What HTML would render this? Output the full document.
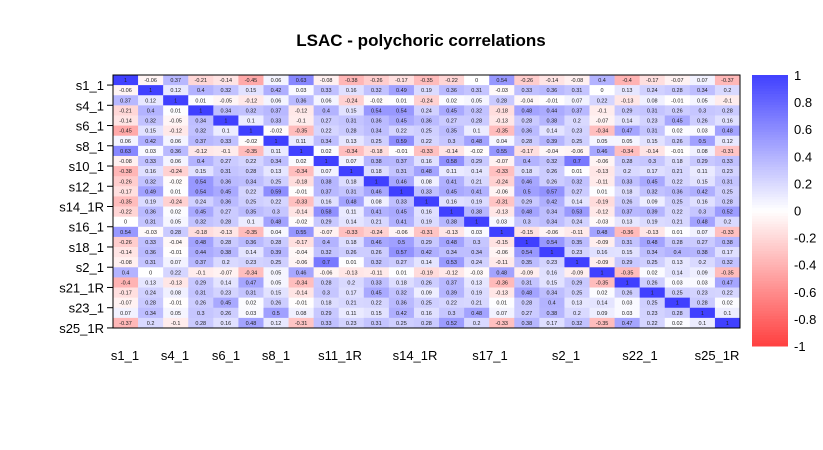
<!DOCTYPE html>
<html><head><meta charset="utf-8"><style>
body{margin:0;background:#fff}
svg text{font-family:"Liberation Sans",sans-serif}
</style></head><body>
<svg id="chart" width="823" height="445" viewBox="0 0 823 445" xmlns="http://www.w3.org/2000/svg">
<text x="421" y="46" text-anchor="middle" font-size="17" font-weight="bold">LSAC - polychoric correlations</text>
<g id="cells"></g>
<rect x="113" y="75" width="627" height="253" fill="none" stroke="#000" stroke-width="1"/>
<g id="rowlab"></g>
<g id="collab"></g>
<g id="cbar"></g>
</svg>
<script>
const vars=["s1_1","s3_1","s4_1","s5_1","s6_1","s7_1","s8_1","s9_1","s10_1","s11_1R","s12_1","s13_1","s14_1R","s15_1","s16_1","s17_1","s18_1","s19_1","s2_1","s20_1","s21_1R","s22_1","s23_1","s24_1","s25_1R"];
const rowLabels=["s1_1","s4_1","s6_1","s8_1","s10_1","s12_1","s14_1R","s16_1","s18_1","s2_1","s21_1R","s23_1","s25_1R"];
const colLabels=["s1_1","s4_1","s6_1","s8_1","s11_1R","s14_1R","s17_1","s2_1","s22_1","s25_1R"];
const colLabelX=[125,175,226,276,340,415,490,566,640,717];
const legendTicks=[1,0.8,0.6,0.4,0.2,0,-0.2,-0.4,-0.6,-0.8,-1];
const upper=[
[1,-0.06,0.37,-0.21,-0.14,-0.45,0.06,0.63,-0.08,-0.38,-0.26,-0.17,-0.35,-0.22,0,0.54,-0.26,-0.14,-0.08,0.4,-0.4,-0.17,-0.07,0.07,-0.37],
[1,0.12,0.4,0.32,0.15,0.42,0.03,0.33,0.16,0.32,0.49,0.19,0.36,0.31,-0.03,0.33,0.36,0.31,0,0.13,0.24,0.28,0.34,0.2],
[1,0.01,-0.05,-0.12,0.06,0.36,0.06,-0.24,-0.02,0.01,-0.24,0.02,0.05,0.28,-0.04,-0.01,0.07,0.22,-0.13,0.08,-0.01,0.05,-0.1],
[1,0.34,0.32,0.37,-0.12,0.4,0.15,0.54,0.54,0.24,0.45,0.32,-0.18,0.48,0.44,0.37,-0.1,0.29,0.31,0.26,0.3,0.28],
[1,0.1,0.33,-0.1,0.27,0.31,0.36,0.45,0.36,0.27,0.28,-0.13,0.28,0.38,0.2,-0.07,0.14,0.23,0.45,0.26,0.16],
[1,-0.02,-0.35,0.22,0.28,0.34,0.22,0.25,0.35,0.1,-0.35,0.36,0.14,0.23,-0.34,0.47,0.31,0.02,0.03,0.48],
[1,0.11,0.34,0.13,0.25,0.59,0.22,0.3,0.48,0.04,0.28,0.39,0.25,0.05,0.05,0.15,0.26,0.5,0.12],
[1,0.02,-0.34,-0.18,-0.01,-0.33,-0.14,-0.02,0.55,-0.17,-0.04,-0.06,0.46,-0.34,-0.14,-0.01,0.08,-0.31],
[1,0.07,0.38,0.37,0.16,0.58,0.29,-0.07,0.4,0.32,0.7,-0.06,0.28,0.3,0.18,0.29,0.33],
[1,0.18,0.31,0.48,0.11,0.14,-0.33,0.18,0.26,0.01,-0.13,0.2,0.17,0.21,0.11,0.23],
[1,0.46,0.08,0.41,0.21,-0.24,0.46,0.26,0.32,-0.11,0.33,0.45,0.22,0.15,0.31],
[1,0.33,0.45,0.41,-0.06,0.5,0.57,0.27,0.01,0.18,0.32,0.36,0.42,0.25],
[1,0.16,0.19,-0.31,0.29,0.42,0.14,-0.19,0.26,0.09,0.25,0.16,0.28],
[1,0.38,-0.13,0.48,0.34,0.53,-0.12,0.37,0.39,0.22,0.3,0.52],
[1,0.03,0.3,0.34,0.24,-0.03,0.13,0.19,0.21,0.48,0.2],
[1,-0.15,-0.06,-0.11,0.48,-0.36,-0.13,0.01,0.07,-0.33],
[1,0.54,0.35,-0.09,0.31,0.48,0.28,0.27,0.38],
[1,0.23,0.16,0.15,0.34,0.4,0.38,0.17],
[1,-0.09,0.29,0.25,0.13,0.2,0.32],
[1,-0.35,0.02,0.14,0.09,-0.35],
[1,0.26,0.03,0.03,0.47],
[1,0.25,0.23,0.22],
[1,0.28,0.02],
[1,0.1],
[1]
];
const NS="http://www.w3.org/2000/svg";
const n=vars.length;
const X0=113,Y0=75,W=627,H=253;
const cw=W/n,ch=H/n;
const xPos=j=>X0+j*cw, yPos=i=>Y0+i*ch;
function val(i,j){return i<=j?upper[i][j-i]:upper[j][i-j];}
function color(v){
  const t=Math.min(1,Math.abs(v));
  if(v>=0){const a=Math.round(255-t*(255-64));return `rgb(${a},${a},255)`;}
  const a=Math.round(255-t*(255-64));return `rgb(255,${a},${a})`;
}
const cells=document.getElementById('cells');
for(let i=0;i<n;i++)for(let j=0;j<n;j++){
  const v=val(i,j);
  const r=document.createElementNS(NS,'rect');
  r.setAttribute('x',xPos(j));r.setAttribute('y',yPos(i));
  r.setAttribute('width',cw+0.3);r.setAttribute('height',ch+0.3);
  r.setAttribute('fill',color(v));
  
  
  cells.appendChild(r);
  const t=document.createElementNS(NS,'text');
  t.setAttribute('x',xPos(j)+cw/2);t.setAttribute('y',yPos(i)+ch/2+2);
  t.setAttribute('text-anchor','middle');t.setAttribute('font-size','5.5');
  t.setAttribute('fill','#222');
  t.textContent=String(v);
  
  
  cells.appendChild(t);
}
const rl=document.getElementById('rowlab');
rowLabels.forEach((s,k)=>{
  const i=vars.indexOf(s);
  const y=yPos(i)+ch/2;
  const l=document.createElementNS(NS,'line');
  l.setAttribute('x1',107);l.setAttribute('x2',113);l.setAttribute('y1',y+5);l.setAttribute('y2',y+5);
  l.setAttribute('stroke','#000');
  
  
  rl.appendChild(l);
  const t=document.createElementNS(NS,'text');
  t.setAttribute('x',104);t.setAttribute('y',y+10);t.setAttribute('text-anchor','end');t.setAttribute('font-size','13');
  t.textContent=s;
  
  
  rl.appendChild(t);
});
const cl=document.getElementById('collab');
colLabels.forEach((s,k)=>{
  const t=document.createElementNS(NS,'text');
  t.setAttribute('x',colLabelX[k]);t.setAttribute('y',360);t.setAttribute('text-anchor','middle');t.setAttribute('font-size','13');
  t.textContent=s;
  
  
  cl.appendChild(t);
});
const cb=document.getElementById('cbar');
const CB0=75,CB1=346,CBX=752,CBW=36;
const cy=v=>CB0+(1-v)/2*(CB1-CB0);
for(let k=0;k<100;k++){
  const v1=1-k*0.02;
  const r=document.createElementNS(NS,'rect');
  r.setAttribute('x',CBX);r.setAttribute('y',cy(v1));r.setAttribute('width',CBW);r.setAttribute('height',(CB1-CB0)/100+0.5);
  r.setAttribute('fill',color(v1-0.01));
  
  
  cb.appendChild(r);
}
legendTicks.forEach(v=>{
  const t=document.createElementNS(NS,'text');
  t.setAttribute('x',794);t.setAttribute('y',cy(v)+5);t.setAttribute('font-size','13');
  t.textContent=String(v);
  
  
  cb.appendChild(t);
});
</script>
</body></html>
